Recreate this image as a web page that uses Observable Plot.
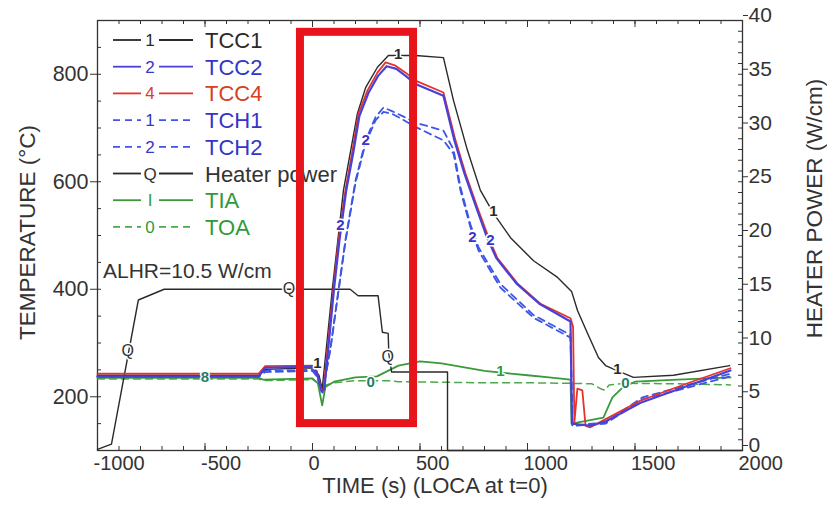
<!DOCTYPE html>
<html><head><meta charset="utf-8">
<script src="https://cdn.jsdelivr.net/npm/d3@7"></script>
<script src="https://cdn.jsdelivr.net/npm/@observablehq/plot@0.6"></script>
<style>
html,body{margin:0;padding:0;background:#fff;}
#chart{width:827px;height:509px;overflow:hidden;}
</style></head><body><div id="chart"></div>
<script>
// ---- data: [time (s), temperature (°C)] ----
const tcc1 = [[-1000,240],[-250,240],[-220,251],[0,254],[30,240],[45,214],[93,403],[144,584],[209,727],[247,775],[302,813],[353,835],[479,835],[609,831],[656,751],[721,658],[781,584],[842,541],[921,496],[1028,453],[1140,422],[1205,396],[1233,360],[1279,318],[1330,273],[1363,258],[1414,249],[1493,236],[1679,240],[1940,258]];
const tcc2 = [[-1000,238],[-250,238],[-220,254],[0,256],[20,245],[42,210],[55,214],[100,400],[125,490],[157,584],[190,655],[218,722],[260,765],[305,797],[345,815],[390,810],[433,797],[479,782],[609,760],[660,677],[707,615],[762,552],[812,496],[855,458],[948,411],[1055,373],[1200,340],[1207,150],[1293,146],[1363,154],[1526,189],[1944,249]];
const tcc4 = [[-1000,243],[-250,243],[-220,257],[0,258],[20,248],[40,215],[51,212],[98,403],[121,491],[153,584],[186,658],[214,727],[256,770],[302,803],[340,822],[386,816],[433,803],[479,788],[609,766],[665,677],[712,615],[767,552],[819,496],[860,458],[953,411],[1060,373],[1200,346],[1212,330],[1218,152],[1232,215],[1255,212],[1270,146],[1290,143],[1353,156],[1526,193],[1758,227],[1944,253]];
const tch1 = [[-1000,238],[-250,238],[-220,248],[0,250],[20,240],[47,208],[84,292],[116,385],[153,491],[200,602],[247,677],[293,720],[330,738],[372,731],[419,722],[479,710],[609,695],[656,660],[688,590],[735,520],[772,478],[874,410],[1028,352],[1200,315],[1209,146],[1302,150],[1363,152],[1535,199],[1944,243]];
const tch2 = [[-1000,237],[-250,237],[-220,246],[0,248],[20,238],[47,208],[84,290],[116,382],[153,488],[200,598],[247,672],[293,714],[330,730],[372,726],[419,716],[479,702],[609,677],[656,652],[688,584],[735,515],[772,472],[874,403],[1028,347],[1200,310],[1209,146],[1302,148],[1363,150],[1535,195],[1944,238]];
const tia  = [[-1000,235],[-250,235],[-230,232],[0,234],[25,225],[45,184],[60,218],[100,228],[200,236],[300,238],[360,250],[400,258],[500,266],[600,262],[700,255],[800,248],[900,244],[1000,240],[1100,236],[1200,232],[1205,150],[1353,161],[1395,199],[1442,217],[1500,228],[1700,232],[1944,236]];
const toa  = [[-1000,233],[-250,233],[-230,230],[0,232],[30,225],[45,220],[100,226],[200,230],[350,230],[400,228],[600,227],[800,226],[1000,226],[1200,225],[1300,224],[1340,215],[1360,212],[1380,222],[1450,225],[1700,224],[1944,222]];
// heater power: [time (s), power (W/cm)] on the right axis
const heater = [[-1000,0.1],[-935,0.6],[-810,14.0],[-690,15.0],[175,15.0],[212,14.4],[305,14.4],[325,11.0],[352,10.9],[355,9.0],[368,7.3],[628,7.3],[628,0],[2000,0]];

// curve number labels: [time, temperature, text, series]
const curveLabels = [
  [398,838,"1","TCC1"],[842,545,"1","TCC1"],[1418,252,"1","TCC1"],[23,262,"1","TCC1"],
  [744,496,"2","TCH2"],[828,491,"2","TCC2"],
  [130,520,"2","TCC2"],[247,677,"2","TCH1"],
  [874,248,"1","TIA"],[270,228,"0","TOA"],[1456,226,"0","TOA"],
  [-500,236,"8","TOA"]
];
const heaterLabels = [[-860,9.3,"Q"],[-110,15.0,"Q"],[350,8.7,"Q"]];

// highlight box: time range and temperature range
const highlight = [{t1:-56, t2:470, T1:150, T2:878}];

// axes
const xMajor = [-1000,-500,0,500,1000,1500,2000];
const yLeftMajor = [200,400,600,800];
const yRightMajor = [0,5,10,15,20,25,30,35,40];

// legend entries
const legendNames  = ["TCC1","TCC2","TCC4","TCH1","TCH2","Heater power","TIA","TOA"];
const legendMarks  = ["1","2","4","1","2","Q","I","0"];
const annotation = "ALHR=10.5 W/cm";

// ---- styles ----
const colors = {TCC1:"#2a2a2a", TCC2:"#4a40d8", TCC4:"#e5332b", TCH1:"#3f55e6", TCH2:"#3f55e6", Heater:"#2a2a2a", TIA:"#3a9a3a", TOA:"#4ca84c"};
const textColors = {TCC1:"#2a2a2a", TCC2:"#3535c8", TCC4:"#d8401e", TCH1:"#3535c8", TCH2:"#3535c8", Heater:"#333", TIA:"#2f9a3a", TOA:"#1f7f6a"};
const dashes = {TCH1:"7,5", TCH2:"7,5", TOA:"7,5"};
const legendKeys = ["TCC1","TCC2","TCC4","TCH1","TCH2","Heater","TIA","TOA"];
const legendTextColors = {TCC1:"#2a2a2a", TCC2:"#3535c8", TCC4:"#d8401e", TCH1:"#3535c8", TCH2:"#3535c8", Heater:"#333", TIA:"#2f9a3a", TOA:"#2f9a3a"};

const W=827, H=509, mL=97, mR=85, mT=20, mB=59;
const plotW = W-mL-mR, plotH = H-mT-mB;
const font = "'Liberation Sans', Arial, Helvetica, sans-serif";
const toT = p => 100 + p*20;   // heater power (W/cm) -> left-axis units

const xMinor = d3.range(-1000, 2001, 100);
const yLeftMinor = d3.range(100, 901, 50);
const yRightMinor = d3.range(0, 41, 1).map(toT);

const lineMark = (pts, key, w) => Plot.line(pts, {x: d=>d[0], y: d=>d[1], stroke: colors[key], strokeWidth: w, strokeDasharray: dashes[key] || null});

const chart = Plot.plot({
  width: W, height: H,
  marginLeft: mL, marginRight: mR, marginTop: mT, marginBottom: mB,
  style: {fontFamily: font, color: "#333", background: "white", overflow: "visible"},
  x: {domain: [-1000, 2000], label: null},
  y: {domain: [100, 900], label: null},
  marks: [
    // ticks
    Plot.ruleX(xMinor, {x: d=>d, insetTop: plotH-4, stroke: "#333"}),
    Plot.ruleX(xMajor, {x: d=>d, insetTop: plotH-7, stroke: "#333"}),
    Plot.ruleX(xMinor, {x: d=>d, insetBottom: plotH-4, stroke: "#333"}),
    Plot.ruleX(xMajor, {x: d=>d, insetBottom: plotH-7, stroke: "#333"}),
    Plot.ruleY(yLeftMinor, {y: d=>d, insetRight: plotW-4, stroke: "#333"}),
    Plot.ruleY(yRightMinor, {y: d=>d, insetLeft: plotW-4, stroke: "#333"}),
    Plot.axisX({ticks: xMajor, tickSize: 0, tickPadding: 5, fontSize: 20, textAnchor: "start", dx: -4, tickFormat: d => String(d)}),
    Plot.axisY({anchor: "left", ticks: yLeftMajor, tickSize: 7, tickPadding: 2, fontSize: 21.5, tickFormat: d => String(d)}),
    Plot.axisY({anchor: "right", ticks: yRightMajor.map(toT), tickSize: 5, tickPadding: 1, fontSize: 21, dy: -5, tickFormat: d => String((d-100)/20)}),
    Plot.frame({stroke: "#333", strokeWidth: 1.3}),
    // titles
    Plot.text(["TEMPERATURE (°C)"], {text: d=>d, frameAnchor: "left", textAnchor: "middle", dx: -70, dy: -3, rotate: -90, fontSize: 22.5, fill: "#333"}),
    Plot.text(["HEATER POWER (W/cm)"], {text: d=>d, frameAnchor: "right", textAnchor: "middle", dx: 72, dy: -27, rotate: -90, fontSize: 22.5, fill: "#333"}),
    Plot.text(["TIME (s) (LOCA at t=0)"], {text: d=>d, frameAnchor: "bottom", textAnchor: "middle", dx: 15, dy: 42, fontSize: 22, fill: "#333"}),
    // series
    lineMark(toa, "TOA", 1.5),
    lineMark(tia, "TIA", 1.8),
    Plot.line(heater, {x: d=>d[0], y: d=>toT(d[1]), stroke: colors.Heater, strokeWidth: 1.4}),
    lineMark(tch2, "TCH2", 1.8),
    lineMark(tch1, "TCH1", 1.8),
    lineMark(tcc1, "TCC1", 1.4),
    lineMark(tcc4, "TCC4", 1.8),
    lineMark(tcc2, "TCC2", 2.2),
    // curve labels
    Plot.text(curveLabels, {x: d=>d[0], y: d=>d[1], text: d=>d[2], fill: d=>textColors[d[3]], stroke: "white", strokeWidth: 3, fontSize: 15, fontWeight: "bold"}),
    Plot.text(heaterLabels, {x: d=>d[0], y: d=>toT(d[1]), text: d=>d[2], fill: "#333", stroke: "white", strokeWidth: 3, fontSize: 16}),
    // highlight box
    Plot.rect(highlight, {x1: "t1", x2: "t2", y1: "T1", y2: "T2", fill: "none", stroke: "#e8141c", strokeWidth: 8})
  ]
});
document.getElementById("chart").appendChild(chart);

// ---- legend (inside plot, top-left) ----
const svg = d3.select(chart);
const lg = svg.insert("g", ":first-child").attr("font-family", font).attr("text-anchor", "start");
const rowY0 = 40, rowDy = 26.7;
legendKeys.forEach((k, i) => {
  const y = rowY0 + i*rowDy;
  const c = colors[k];
  const dash = dashes[k] || null;
  lg.append("line").attr("x1",113).attr("x2",141).attr("y1",y).attr("y2",y).attr("stroke",c).attr("stroke-width",1.8).attr("stroke-dasharray",dash);
  lg.append("line").attr("x1",159).attr("x2",193).attr("y1",y).attr("y2",y).attr("stroke",c).attr("stroke-width",1.8).attr("stroke-dasharray",dash);
  lg.append("text").attr("x",150).attr("y",y+6).attr("text-anchor","middle").attr("font-size",17).attr("fill",legendTextColors[k]).text(legendMarks[i]);
  lg.append("text").attr("x",205).attr("y",y+8).attr("text-anchor","start").attr("font-size",22).attr("fill",legendTextColors[k]).text(legendNames[i]);
});
lg.append("text").attr("x",103).attr("y",278).attr("text-anchor","start").attr("font-size",21).attr("fill","#333").text(annotation);
</script></body></html>
